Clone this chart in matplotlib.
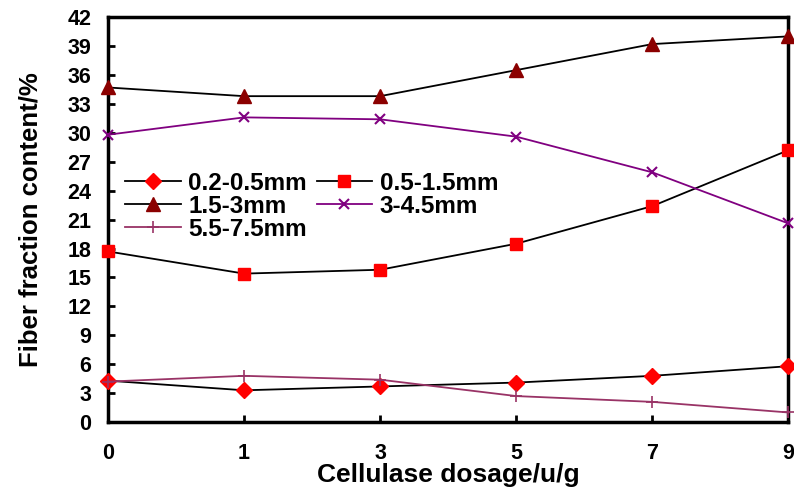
import matplotlib.pyplot as plt

plt.rcParams['font.family'] = ['Liberation Sans', 'DejaVu Sans']
plt.rcParams['font.weight'] = 'bold'

dosage = ["0", "1", "3", "5", "7", "9"]
f_02_05 = [4.3, 3.3, 3.7, 4.1, 4.8, 5.8]
f_05_15 = [17.7, 15.4, 15.8, 18.5, 22.4, 28.2]
f_15_3 = [34.7, 33.8, 33.8, 36.5, 39.2, 40.0]
f_3_45 = [29.8, 31.6, 31.4, 29.6, 25.9, 20.6]
f_55_75 = [4.2, 4.8, 4.4, 2.7, 2.1, 1.0]

fig = plt.figure(figsize=(7.94, 4.88), dpi=100)
ax = fig.add_axes([0.136, 0.135, 0.857, 0.83])
x = range(len(dosage))

l1, = ax.plot(x, f_02_05, color="black", lw=1.3, marker="D", ms=8, mfc="red", mec="red",
              label="0.2-0.5mm", clip_on=False, zorder=3)
l2, = ax.plot(x, f_05_15, color="black", lw=1.3, marker="s", ms=9, mfc="red", mec="red",
              label="0.5-1.5mm", clip_on=False, zorder=3)
l3, = ax.plot(x, f_15_3, color="black", lw=1.3, marker="^", ms=10, mfc="#8B0000", mec="#8B0000",
              label="1.5-3mm", clip_on=False, zorder=3)
l4, = ax.plot(x, f_3_45, color="#800080", lw=1.3, marker="x", ms=7, mew=1.5,
              label="3-4.5mm", clip_on=False, zorder=3)
l5, = ax.plot(x, f_55_75, color="#993366", lw=1.3, marker="+", ms=9, mew=1.2,
              label="5.5-7.5mm", clip_on=False, zorder=3)

ax.set_xlim(0, len(dosage) - 1)
ax.set_ylim(0, 42)
ax.set_xticks(list(x))
ax.set_xticklabels(dosage)
ax.set_yticks(range(0, 43, 3))
ax.tick_params(axis="both", direction="in", width=2, length=5, labelsize=15.5)
ax.tick_params(axis="x", pad=15)
ax.tick_params(axis="y", pad=12)
for s in ax.spines.values():
    s.set_linewidth(2.5)

ax.set_xlabel("Cellulase dosage/u/g", fontsize=19, fontweight="bold", labelpad=-1)
ax.set_ylabel("Fiber fraction content/%", fontsize=18.5, fontweight="bold", labelpad=18)

# row-wise order for a two-column legend
handles = [l1, l3, l5, l2, l4]
ax.legend(handles=handles, labels=[h.get_label() for h in handles],
          loc="upper left", bbox_to_anchor=(0.0, 0.66), ncol=2, frameon=False,
          fontsize=17.5, handlelength=2.3, handletextpad=0.3, columnspacing=0.4,
          labelspacing=0.0, borderaxespad=0.3)

fig.savefig("out.png", dpi=100)
